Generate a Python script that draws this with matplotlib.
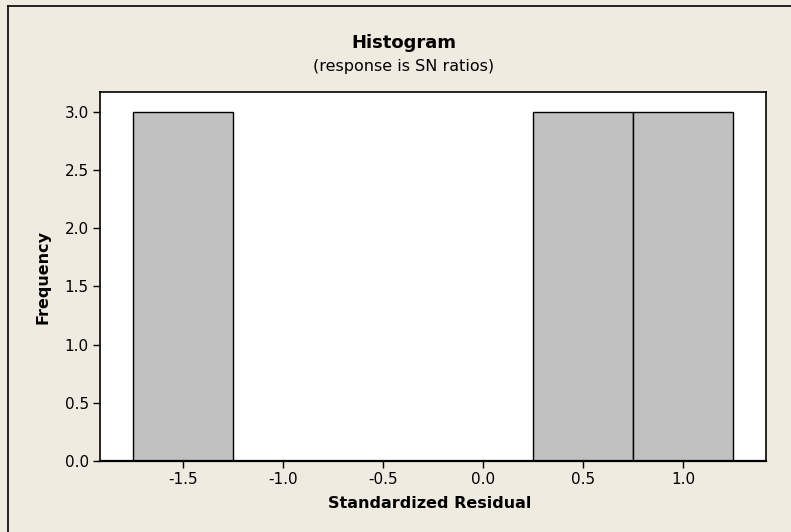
import matplotlib
matplotlib.use("Agg")
import matplotlib.pyplot as plt
from matplotlib.lines import Line2D

bin_edges = [-1.75, -1.25, -0.75, -0.25, 0.25, 0.75, 1.25]
counts = [3, 0, 0, 0, 3, 3]
xticks = [-1.5, -1.0, -0.5, 0.0, 0.5, 1.0]
yticks = [0.0, 0.5, 1.0, 1.5, 2.0, 2.5, 3.0]

bg = "#efebe1"
W, H = 791, 532
fig = plt.figure(figsize=(W / 100, H / 100), dpi=100, facecolor=bg)
ax = fig.add_axes([100 / W, 1 - 461 / H, (766 - 100) / W, (461 - 92) / H])
ax.set_facecolor("white")

widths = [b - a for a, b in zip(bin_edges[:-1], bin_edges[1:])]
ax.bar(bin_edges[:-1], counts, width=widths, align="edge",
       color="#c0c0c0", edgecolor="black", linewidth=1.0)

ax.set_xlim(-1.915, 1.415)
ax.set_ylim(0, 3.17)
ax.set_xticks(xticks)
ax.set_xticklabels([f"{t:.1f}" for t in xticks])
ax.set_yticks(yticks)
ax.set_yticklabels([f"{t:.1f}" for t in yticks])
ax.tick_params(direction="out", length=5, width=1, labelsize=11, colors="black", pad=3)
for s in ax.spines.values():
    s.set_linewidth(1.2)
    s.set_color("black")
ax.spines["bottom"].set_linewidth(1.6)

fig.text(404 / W, 1 - 43 / H, "Histogram", ha="center", va="center",
         fontsize=13, fontweight="bold")
fig.text(404 / W, 1 - 66 / H, "(response is SN ratios)", ha="center", va="center",
         fontsize=11.5)
fig.text(430 / W, 1 - 503 / H, "Standardized Residual", ha="center", va="center",
         fontsize=11.5, fontweight="bold")
fig.text(43 / W, 1 - 277 / H, "Frequency", ha="center", va="center",
         fontsize=11.5, fontweight="bold", rotation=90)

# outer frame (left and top edges visible)
fig.add_artist(Line2D([8 / W, 8 / W], [0, 1 - 6 / H], color="black", lw=1.2,
                      transform=fig.transFigure))
fig.add_artist(Line2D([8 / W, 1], [1 - 6 / H, 1 - 6 / H], color="black", lw=1.2,
                      transform=fig.transFigure))

fig.savefig("out.png", dpi=100, facecolor=bg)
